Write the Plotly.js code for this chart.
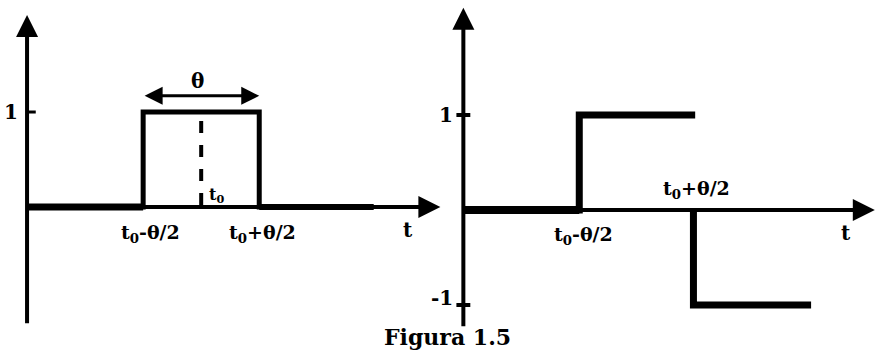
<!DOCTYPE html>
<html>
<head>
<meta charset="utf-8">
<script src="https://cdn.plot.ly/plotly-3.0.1.min.js"></script>
<style>
  html, body { margin: 0; padding: 0; background: #fff; }
  #graph { width: 876px; height: 361px; }
</style>
</head>
<body>
<div id="graph"></div>
<script>
// left: rectangular pulse of width theta centred on t0
const pulseT = [0, 2, 2, 4, 4, 5.97];
const pulseY = [0, 0, 1, 1, 0, 0];
const centerT = [3, 3];
const centerY = [0.02, 0.98];

// right: +1 then -1 step pair
const stepUpT = [0, 2, 2, 4];
const stepUpY = [0, 0, 1, 1];
const stepDownT = [3.97, 3.97, 6];
const stepDownY = [0, -1, -1];

// axis extents (tail, tip) for each panel
const leftXAxis = [0, 7.12];
const leftYAxis = [-1.24, 2.02];
const rightXAxis = [0, 7.1];
const rightYAxis = [-1.24, 2.13];

const leftTicks = [1];
const rightTicks = [1, -1];
const rightTickText = ['1', '-1'];

const FONT = '"DejaVu Serif", "Liberation Serif", serif';

function line(x, y, width, xa, ya, dash) {
    return {
        x: x, y: y,
        xaxis: xa, yaxis: ya,
        mode: 'lines',
        line: {color: 'black', width: width, dash: dash || 'solid'},
        hoverinfo: 'none',
    };
}

function axisArrow(xa, ya, x0, y0, x1, y1) {
    return {
        xref: xa, yref: ya, axref: xa, ayref: ya,
        x: x1, y: y1, ax: x0, ay: y0,
        text: '', showarrow: true,
        arrowhead: 2, arrowsize: 1.1, arrowwidth: 4,
        arrowcolor: 'black', standoff: 0, startstandoff: 0,
    };
}

function label(xa, ya, x, y, text, size, xanchor) {
    return {
        xref: xa, yref: ya, x: x, y: y,
        text: '<b>' + text + '</b>', showarrow: false,
        xanchor: xanchor || 'center', yanchor: 'middle',
        font: {family: FONT, size: size || 19, color: 'black'},
    };
}

const traces = [
    // left panel
    line(pulseT, pulseY, 5, 'x', 'y'),
    line([pulseT[0], pulseT[1]], [0, 0], 7, 'x', 'y'),
    line([pulseT[4], pulseT[5]], [0, 0], 6, 'x', 'y'),
    line(centerT, centerY, 4, 'x', 'y', 'dash'),
    line([0, 0.15], [leftTicks[0], leftTicks[0]], 3, 'x', 'y'),
    // right panel
    line([stepUpT[0], stepUpT[1]], [0, 0], 8, 'x2', 'y2'),
    line(stepUpT, stepUpY, 7, 'x2', 'y2'),
    line(stepDownT, stepDownY, 7, 'x2', 'y2'),
    line([-0.12, 0.12], [rightTicks[0], rightTicks[0]], 4, 'x2', 'y2'),
    line([-0.12, 0.12], [rightTicks[1], rightTicks[1]], 4, 'x2', 'y2'),
];

const annotations = [
    axisArrow('x', 'y', leftXAxis[0], 0, leftXAxis[1], 0),
    axisArrow('x', 'y', 0, leftYAxis[0], 0, leftYAxis[1]),
    axisArrow('x2', 'y2', rightXAxis[0], 0, rightXAxis[1], 0),
    axisArrow('x2', 'y2', 0, rightYAxis[0], 0, rightYAxis[1]),
    // width arrow over the pulse
    {
        xref: 'x', yref: 'y', axref: 'x', ayref: 'y',
        x: 4, y: 1.17, ax: 2, ay: 1.17,
        text: '', showarrow: true, arrowside: 'end+start',
        arrowhead: 2, arrowsize: 1.2, arrowwidth: 3,
        arrowcolor: 'black', standoff: 0, startstandoff: 0,
    },
    label('x', 'y', 2.93, 1.33, 'θ', 20),
    label('x', 'y', 3.1, 0.12, 't<sub>0</sub>', 16, 'left'),
    label('x', 'y', -0.12, leftTicks[0], '1', 20, 'right'),
    label('x', 'y', 2.13, -0.28, 't<sub>0</sub>-θ/2', 19),
    label('x', 'y', 4.05, -0.28, 't<sub>0</sub>+θ/2', 19),
    label('x', 'y', 6.57, -0.24, 't', 20),

    label('x2', 'y2', -0.14, rightTicks[0], rightTickText[0], 20, 'right'),
    label('x2', 'y2', -0.14, rightTicks[1] + 0.07, rightTickText[1], 20, 'right'),
    label('x2', 'y2', 2.07, -0.27, 't<sub>0</sub>-θ/2', 19),
    label('x2', 'y2', 4.03, 0.22, 't<sub>0</sub>+θ/2', 19),
    label('x2', 'y2', 6.6, -0.24, 't', 20),

    {
        xref: 'paper', yref: 'paper', x: 0.511, y: 0.066,
        text: '<b>Figura 1.5</b>', showarrow: false,
        xanchor: 'center', yanchor: 'middle',
        font: {family: FONT, size: 22, color: 'black'},
    },
];

const hidden = {
    visible: false, showgrid: false, zeroline: false, fixedrange: true,
};

const layout = {
    width: 876,
    height: 361,
    margin: {l: 0, r: 0, t: 0, b: 0},
    paper_bgcolor: 'white',
    plot_bgcolor: 'white',
    showlegend: false,
    xaxis: Object.assign({domain: [0, 0.505], range: [-0.466, 7.155]}, hidden),
    yaxis: Object.assign({domain: [0, 1], range: [-1.621, 2.179]}, hidden),
    xaxis2: Object.assign({domain: [0.505, 1], range: [-0.362, 7.12], anchor: 'y2'}, hidden),
    yaxis2: Object.assign({domain: [0, 1], range: [-1.589, 2.211], anchor: 'x2'}, hidden),
    annotations: annotations,
};

Plotly.newPlot('graph', traces, layout, {displayModeBar: false, staticPlot: true});
</script>
</body>
</html>
